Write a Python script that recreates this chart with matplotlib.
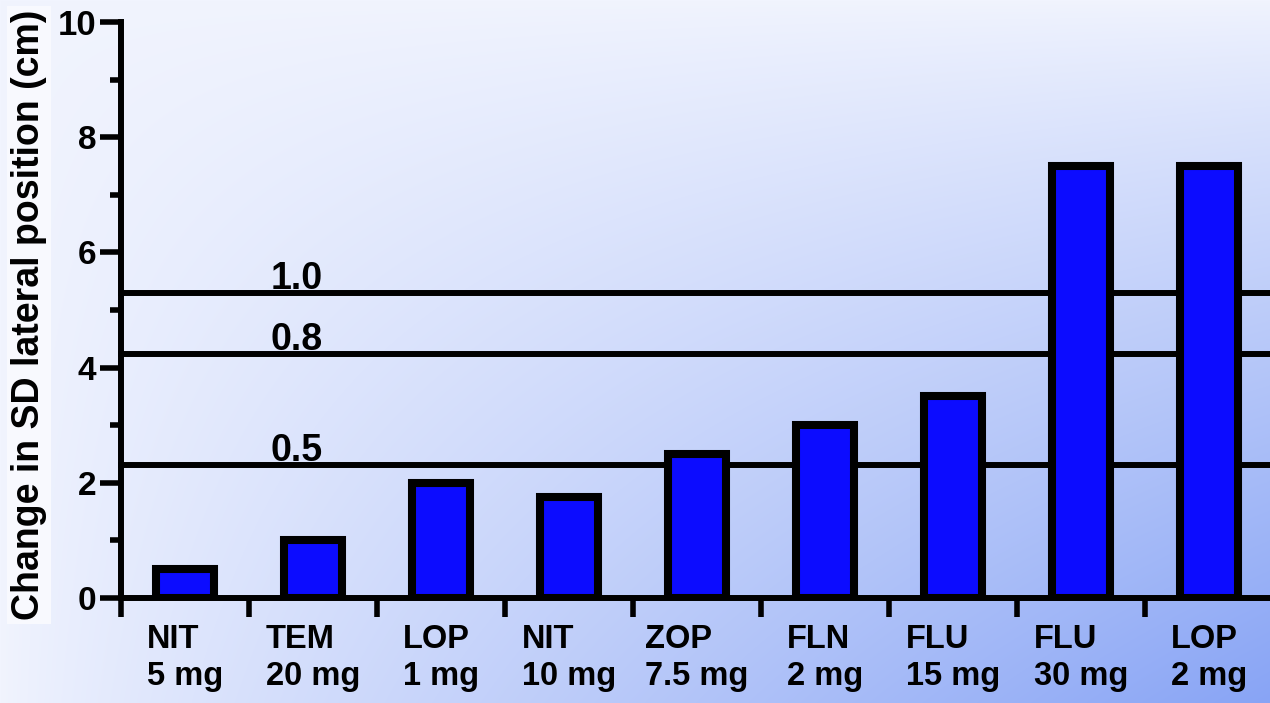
import numpy as np
import matplotlib
matplotlib.use("Agg")
import matplotlib.pyplot as plt
from matplotlib.colors import to_rgb

# ---- data ----
drugs = ["NIT", "TEM", "LOP", "NIT", "ZOP", "FLN", "FLU", "FLU", "LOP"]
doses = ["5 mg", "20 mg", "1 mg", "10 mg", "7.5 mg", "2 mg", "15 mg", "30 mg", "2 mg"]
change_sd = [0.5, 1.0, 2.0, 1.75, 2.5, 3.0, 3.5, 7.5, 7.5]
bac_labels = ["1.0", "0.8", "0.5"]
bac_values = [5.29, 4.23, 2.31]
y_major = [0, 2, 4, 6, 8, 10]
y_minor = [1, 3, 5, 7, 9]
ylabel = "Change in SD lateral position (cm)"

plt.rcParams["font.family"] = ["Liberation Sans", "DejaVu Sans"]
plt.rcParams["font.weight"] = "bold"

W, H = 1270, 703
fig = plt.figure(figsize=(W / 100, H / 100), dpi=100)

# background gradient (pale top-left -> blue bottom-right)
bg = fig.add_axes([0, 0, 1, 1], zorder=-10)
xx = np.linspace(0, 1, W)
yy = np.linspace(0, 1, H)
t = np.outer(yy, xx) ** 0.85
pale = np.array(to_rgb("#f1f4fe"))
blue = np.array(to_rgb("#88a4f5"))
img = pale + (blue - pale) * t[..., None]
bg.imshow(img, aspect="auto", extent=[0, 1, 0, 1])
bg.axis("off")

ax = fig.add_axes([121 / W, 105 / H, 1152 / W, 576 / H])
ax.set_facecolor("none")
x = np.arange(len(change_sd))
ax.set_xlim(-0.5, len(change_sd) - 0.5)
ax.set_ylim(0, 10)

ax.bar(x, change_sd, width=0.46, color="#0c0cff", edgecolor="black",
       linewidth=5.8, zorder=3)

for lab, val in zip(bac_labels, bac_values):
    ax.axhline(val, color="black", lw=4.3, zorder=2, clip_on=False)
    ax.annotate(lab, xy=(0.13, val), xycoords=("axes fraction", "data"),
                xytext=(0, 3), textcoords="offset points", ha="left",
                va="baseline", fontsize=27, fontweight="bold", zorder=4)

for s in ["top", "right"]:
    ax.spines[s].set_visible(False)
for s in ["left", "bottom"]:
    ax.spines[s].set_linewidth(4.3)
    ax.spines[s].set_zorder(5)

ax.set_yticks(y_major)
ax.set_yticks(y_minor, minor=True)
ax.tick_params(axis="y", which="major", length=15, width=4, pad=3,
               labelsize=24)
ax.tick_params(axis="y", which="minor", length=8, width=4)
ylbls = ax.get_yticklabels()
for lbl in ylbls:
    lbl.set_fontweight("bold")
ylbls[-1].set_fontsize(25)

ax.set_xticks(np.arange(-0.5, len(change_sd)))
ax.set_xticklabels([])
ax.set_xticks(x, minor=True)
ax.set_xticklabels([f"{d}\n{m}" for d, m in zip(drugs, doses)], minor=True)
ax.tick_params(axis="x", which="major", length=14, width=4)
ax.tick_params(axis="x", which="minor", length=0, pad=19, labelsize=23.5)
for lbl in ax.get_xticklabels(minor=True):
    lbl.set_multialignment("left")
    lbl.set_fontweight("bold")
    lbl.set_linespacing(1.25)

ax.set_ylabel(ylabel, fontsize=27, fontweight="bold",
              bbox=dict(facecolor="#f8f9fe", edgecolor="none", pad=3))
ax.yaxis.set_label_coords(-0.064, 0.491)

fig.savefig("out.png", dpi=100)
